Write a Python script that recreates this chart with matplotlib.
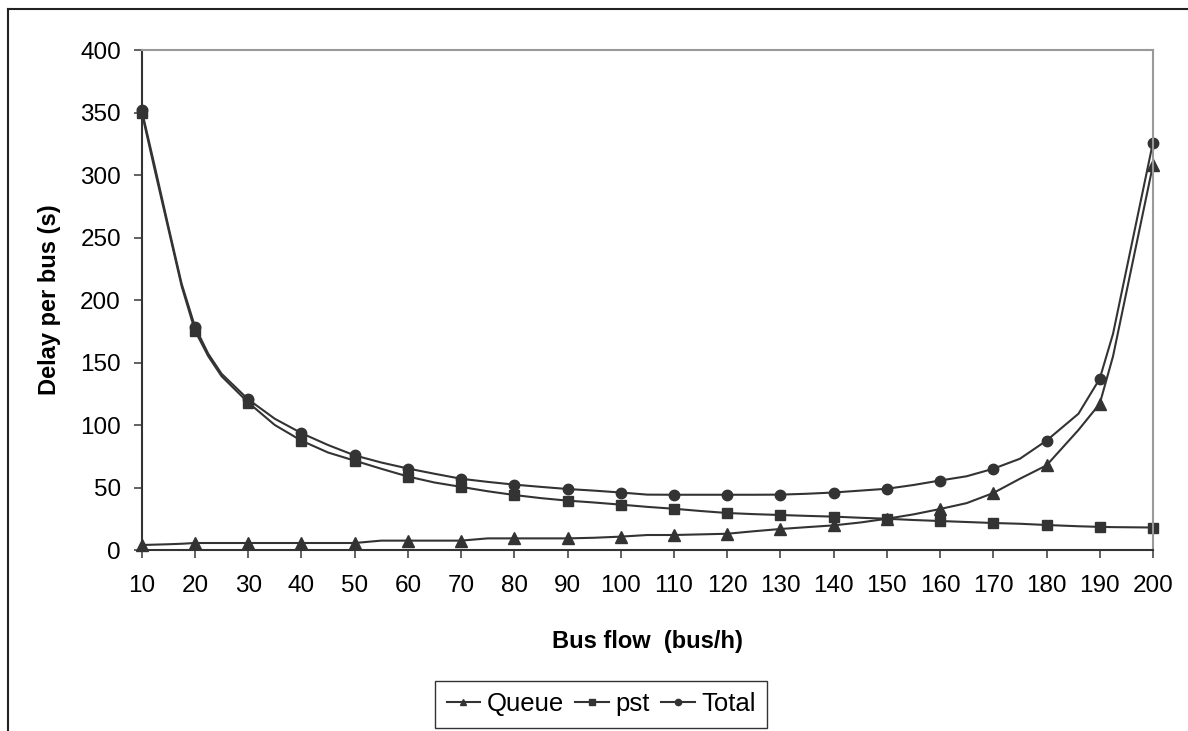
import matplotlib
matplotlib.use("Agg")
import matplotlib.pyplot as plt
from matplotlib.lines import Line2D

plt.rcParams['font.family'] = ['Liberation Sans', 'DejaVu Sans']

# donnees
bus_flow = [10, 12.5, 15, 17.5, 20, 22.5, 25, 30, 35, 40, 45, 50, 55, 60, 65, 70, 75, 80, 85, 90,
            95, 100, 105, 110, 115, 120, 125, 130, 135, 140, 145, 150, 155, 160, 165, 170, 175,
            180, 186, 190, 192.5, 200]
queue = [4, 4.3, 4.6, 5, 5.6, 5.6, 5.6, 5.6, 5.6, 5.6, 5.6, 5.6, 7.5, 7.5, 7.5, 7.5, 9.3, 9.3, 9.3, 9.3,
         9.8, 10.7, 12, 12, 12.5, 13, 15, 16.8, 18.3, 19.7, 22, 25, 28.5, 32.8, 37.5, 45.6, 57,
         67.7, 96, 117, 155, 308]
pst = [350, 303, 257, 211, 175.5, 155, 139, 118, 100, 87.5, 78, 71.5, 65, 58.8, 54, 50.5, 47, 44, 41.5, 39.5,
       38, 36.3, 34.5, 33, 31.2, 29.6, 28.7, 28, 27.3, 26.7, 25.8, 25, 24, 23.2, 22.4, 21.6, 21,
       20, 19, 18.5, 18.3, 18]
total = [352, 306, 259, 213, 178.7, 157, 141, 120.5, 105, 93.5, 84, 75.7, 70, 65.2, 61, 57, 54.5, 52.3, 50.5, 48.8,
         47.5, 46, 44.3, 44.2, 44.2, 44.2, 44.2, 44.3, 45, 46, 47.5, 49, 52, 55.6, 59, 65, 73,
         87.5, 109, 137, 173, 326]

xticks = list(range(10, 201, 10))
yticks = list(range(0, 401, 50))

col = '#333333'
marks = [i for i, v in enumerate(bus_flow) if v % 10 == 0]

fig = plt.figure(figsize=(11.88, 7.31), dpi=100)
ax = fig.add_axes([0.1193, 0.2476, 0.8512, 0.684])

ax.plot(bus_flow, queue, color=col, lw=1.5, marker='^', ms=8, markevery=marks, label='Queue', clip_on=False)
ax.plot(bus_flow, pst, color=col, lw=1.5, marker='s', ms=7, markevery=marks, label='pst', clip_on=False)
ax.plot(bus_flow, total, color=col, lw=1.5, marker='o', ms=7.5, markevery=marks, label='Total', clip_on=False)

ax.set_xlim(10, 200)
ax.set_ylim(0, 400)
ax.set_xticks(xticks)
ax.set_yticks(yticks)
ax.tick_params(axis='both', labelsize=17.5, direction='out', length=6, width=1.3, color='#555555', pad=9)
ax.tick_params(axis='x', pad=12)

for s in ['top', 'right']:
    ax.spines[s].set_color('#999999')
    ax.spines[s].set_linewidth(1.5)
for s in ['left', 'bottom']:
    ax.spines[s].set_color('#333333')
    ax.spines[s].set_linewidth(1.5)

ax.set_xlabel('Bus flow  (bus/h)', fontsize=17, fontweight='bold', labelpad=24)
ax.set_ylabel('Delay per bus (s)', fontsize=17, fontweight='bold', labelpad=14)

leg = fig.legend(loc='center', bbox_to_anchor=(0.506, 0.0363), ncol=3, fontsize=18.5,
                 frameon=True, fancybox=False, edgecolor='black', handlelength=1.3,
                 handletextpad=0.25, columnspacing=0.45, borderpad=0.45, markerscale=0.6)
leg.get_frame().set_linewidth(1.0)

# cadre exterieur (haut et gauche)
fig.add_artist(Line2D([8 / 1188, 1], [1 - 9 / 731, 1 - 9 / 731], color='#222222', lw=1.5))
fig.add_artist(Line2D([8 / 1188, 8 / 1188], [0, 1 - 9 / 731], color='#222222', lw=1.5))

fig.savefig('out.png', dpi=100)
